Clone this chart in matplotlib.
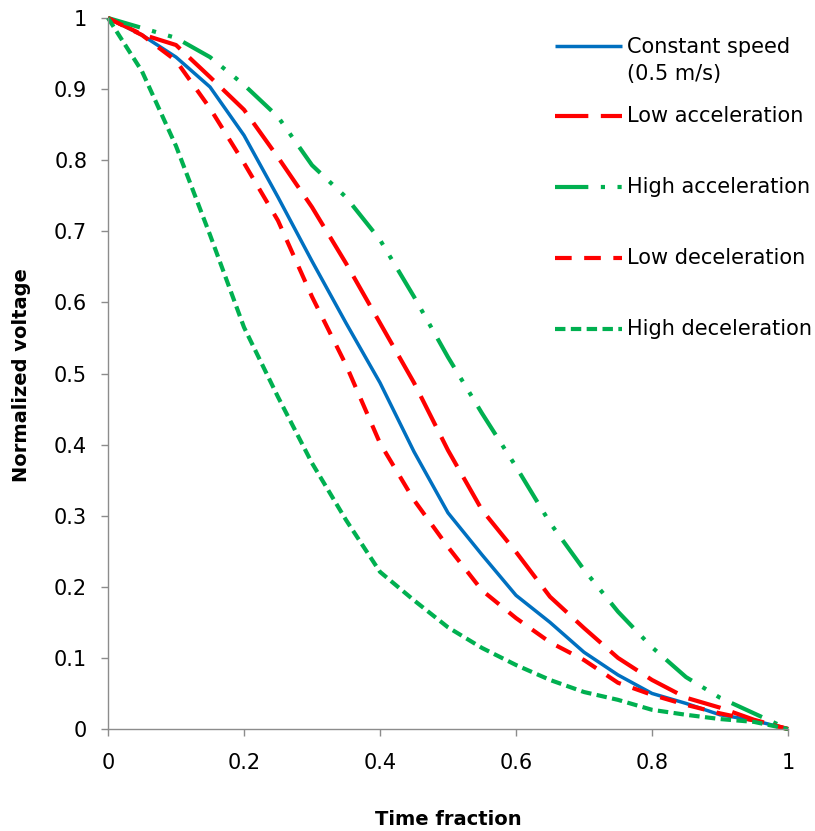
import matplotlib
matplotlib.use("Agg")
import matplotlib.pyplot as plt

plt.rcParams['font.family'] = ['DejaVu Sans']

# Time fraction sample points
time_fraction = [0.0, 0.05, 0.1, 0.15, 0.2, 0.25, 0.3, 0.35, 0.4, 0.45, 0.5,
                 0.55, 0.6, 0.65, 0.7, 0.75, 0.8, 0.85, 0.9, 0.95, 1.0]

# Normalized voltage for each motion profile
constant_speed = [1.0, 0.976, 0.945, 0.903, 0.835, 0.748, 0.658, 0.571, 0.487, 0.390, 0.304,
                  0.245, 0.188, 0.150, 0.108, 0.076, 0.050, 0.036, 0.020, 0.012, 0.0]
low_acceleration = [1.0, 0.977, 0.962, 0.917, 0.871, 0.804, 0.734, 0.655, 0.571, 0.487, 0.392,
                    0.308, 0.249, 0.186, 0.142, 0.100, 0.069, 0.044, 0.030, 0.013, 0.0]
high_acceleration = [1.0, 0.986, 0.972, 0.945, 0.906, 0.861, 0.793, 0.748, 0.688, 0.608, 0.523,
                     0.444, 0.369, 0.290, 0.224, 0.165, 0.115, 0.073, 0.044, 0.022, 0.0]
low_deceleration = [1.0, 0.976, 0.940, 0.873, 0.796, 0.715, 0.608, 0.512, 0.402, 0.322, 0.256,
                    0.195, 0.156, 0.122, 0.097, 0.065, 0.048, 0.034, 0.022, 0.012, 0.0]
high_deceleration = [1.0, 0.925, 0.820, 0.695, 0.565, 0.467, 0.374, 0.294, 0.221, 0.181, 0.143,
                     0.114, 0.090, 0.069, 0.052, 0.041, 0.027, 0.020, 0.014, 0.010, 0.0]

series_labels = ["Constant speed\n(0.5 m/s)", "Low acceleration", "High acceleration",
                 "Low deceleration", "High deceleration"]
x_ticks = [0, 0.2, 0.4, 0.6, 0.8, 1]
y_ticks = [0, 0.1, 0.2, 0.3, 0.4, 0.5, 0.6, 0.7, 0.8, 0.9, 1]

BLUE = "#0070C0"
RED = "#FF0000"
GREEN = "#00B050"

styles = [
    dict(color=BLUE, lw=2.5, dashes=()),
    dict(color=RED, lw=3.0, dashes=(8, 3)),
    dict(color=GREEN, lw=3.0, dashes=(8, 3, 1, 3, 1, 3)),
    dict(color=RED, lw=3.0, dashes=(4, 3)),
    dict(color=GREEN, lw=3.0, dashes=(2.5, 1.3)),
]
series = [constant_speed, low_acceleration, high_acceleration,
          low_deceleration, high_deceleration]

fig = plt.figure(figsize=(8.15, 8.31), dpi=100)
ax = fig.add_axes([108 / 815, 1 - 729 / 831, 680 / 815, 711 / 831])

for values, st in zip(series, styles):
    line, = ax.plot(time_fraction, values, color=st["color"], lw=st["lw"],
                    solid_capstyle="butt", dash_capstyle="butt",
                    solid_joinstyle="round", clip_on=False)
    if st["dashes"]:
        line.set_dashes(st["dashes"])

ax.set_xlim(0, 1)
ax.set_ylim(0, 1)
ax.set_xticks(x_ticks)
ax.set_yticks(y_ticks)
ax.set_xticklabels([f"{v:g}" for v in x_ticks])
ax.set_yticklabels([f"{v:g}" for v in y_ticks])

for side in ("top", "right"):
    ax.spines[side].set_visible(False)
for side in ("left", "bottom"):
    ax.spines[side].set_color("#8C8C8C")
    ax.spines[side].set_linewidth(1.0)

ax.tick_params(axis="both", direction="out", colors="#8C8C8C", labelcolor="black",
               labelsize=15, length=5, width=1.0)
ax.tick_params(axis="y", pad=10)
ax.tick_params(axis="x", pad=12)

# Legend drawn as short line samples with text beside them
legend_y = [(729 - 46) / 711, (729 - 116) / 711, (729 - 187) / 711,
            (729 - 258) / 711, (729 - 329) / 711]
hx0, hx1 = (555 - 108) / 680, (622 - 108) / 680
tx = (627 - 108) / 680
for label, st, ly in zip(series_labels, styles, legend_y):
    h, = ax.plot([hx0, hx1], [ly, ly], transform=ax.transAxes, color=st["color"],
                 lw=st["lw"], solid_capstyle="butt", dash_capstyle="butt", clip_on=False)
    if st["dashes"]:
        h.set_dashes(st["dashes"])
    if "\n" in label:
        ax.text(tx, ly - 14.5 / 711, label, transform=ax.transAxes, fontsize=15,
                ha="left", va="center", linespacing=1.4)
    else:
        ax.text(tx, ly, label, transform=ax.transAxes, fontsize=15,
                ha="left", va="center")

fig.text(22 / 815, 1 - 375 / 831, "Normalized voltage", rotation=90, fontsize=14,
         fontweight="bold", ha="center", va="center")
fig.text(448 / 815, 1 - 825 / 831, "Time fraction", fontsize=14,
         fontweight="bold", ha="center", va="baseline")

fig.savefig("out.png", dpi=100, facecolor="white")
